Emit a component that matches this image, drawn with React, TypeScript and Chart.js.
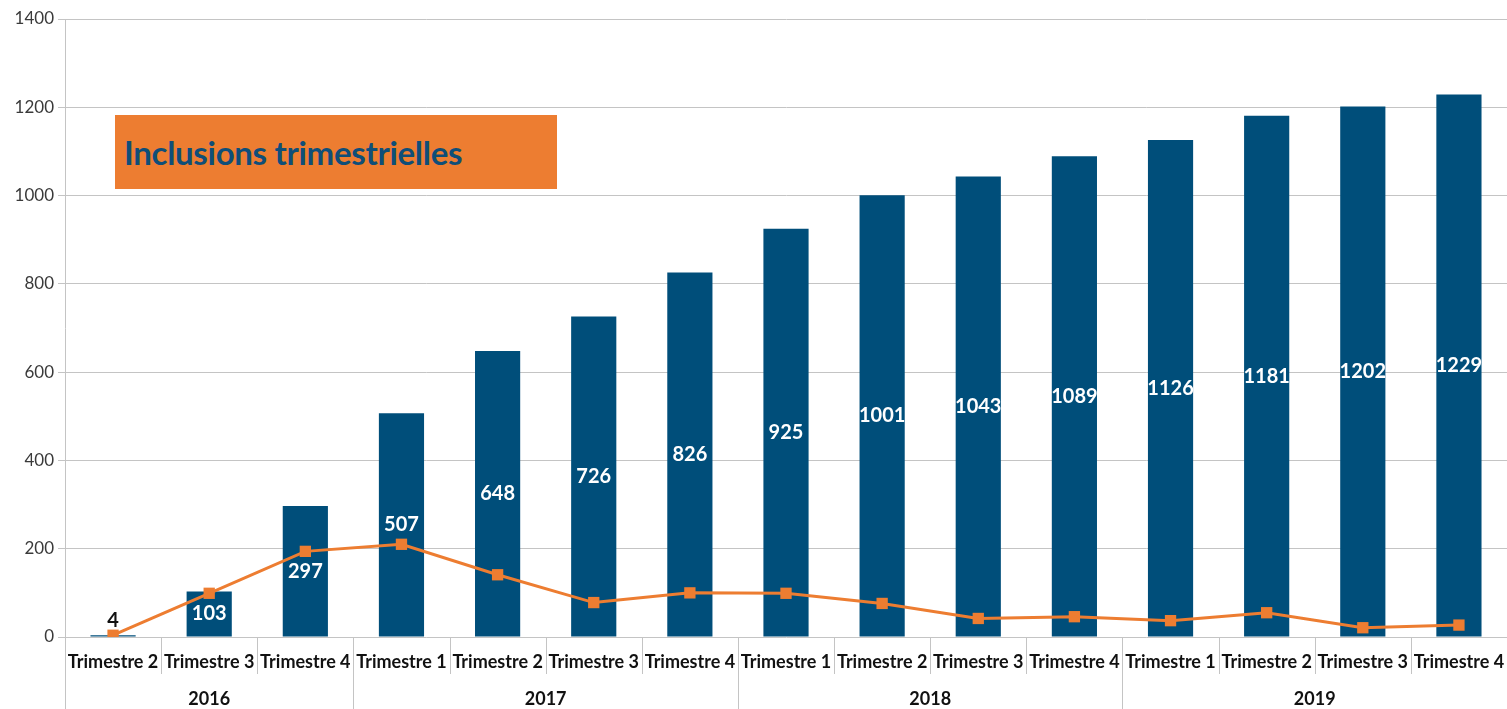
import React, { useEffect, useRef } from 'react';
import { Chart, registerables } from 'chart.js';

Chart.register(...registerables);

const quarters = [
  'Trimestre 2', 'Trimestre 3', 'Trimestre 4',
  'Trimestre 1', 'Trimestre 2', 'Trimestre 3', 'Trimestre 4',
  'Trimestre 1', 'Trimestre 2', 'Trimestre 3', 'Trimestre 4',
  'Trimestre 1', 'Trimestre 2', 'Trimestre 3', 'Trimestre 4',
];
const years = ['2016', '2017', '2018', '2019'];
const yearSpans = [3, 4, 4, 4];
const cumulative = [4, 103, 297, 507, 648, 726, 826, 925, 1001, 1043, 1089, 1126, 1181, 1202, 1229];
const quarterly = [4, 99, 194, 210, 141, 78, 100, 99, 76, 42, 46, 37, 55, 21, 27];
const title = 'Inclusions trimestrielles';

const BLUE = '#004e7a';
const ORANGE = '#ed7d31';
const GRID = '#c4c4c4';

const barLabelsPlugin = {
  id: 'barLabels',
  afterDatasetsDraw(chart: any) {
    const meta = chart.getDatasetMeta(0);
    const ctx = chart.ctx;
    ctx.save();
    ctx.font = 'bold 20px Lato';
    ctx.textAlign = 'center';
    ctx.textBaseline = 'middle';
    meta.data.forEach((bar: any, i: number) => {
      const v = cumulative[i];
      const h = bar.base - bar.y;
      if (h < 25) {
        ctx.fillStyle = '#111';
        ctx.fillText(String(v), bar.x, bar.y - 15);
      } else {
        ctx.fillStyle = '#ffffff';
        ctx.fillText(String(v), bar.x, (bar.y + bar.base) / 2);
      }
    });
    ctx.restore();
  },
};

const xAxisPlugin = {
  id: 'multiXAxis',
  afterDraw(chart: any) {
    const ctx = chart.ctx;
    const x = chart.scales.x;
    const area = chart.chartArea;
    const bottom = chart.height;
    const n = quarters.length;
    const half = (x.getPixelForValue(1) - x.getPixelForValue(0)) / 2;
    ctx.save();
    ctx.strokeStyle = GRID;
    ctx.lineWidth = 1;
    const boundaries = new Set<number>();
    let acc = 0;
    boundaries.add(0);
    yearSpans.forEach((s) => { acc += s; boundaries.add(acc); });
    for (let i = 0; i <= n; i++) {
      const px = Math.round(x.getPixelForValue(i) - half) + 0.5;
      const isYear = boundaries.has(i);
      ctx.beginPath();
      ctx.moveTo(px, area.bottom);
      ctx.lineTo(px, isYear ? bottom : area.bottom + 37);
      ctx.stroke();
    }
    ctx.fillStyle = '#111';
    ctx.font = 'bold 18px Lato';
    ctx.textAlign = 'center';
    ctx.textBaseline = 'middle';
    quarters.forEach((q, i) => {
      ctx.fillText(q, x.getPixelForValue(i), area.bottom + 25);
    });
    let start = 0;
    years.forEach((y, k) => {
      const end = start + yearSpans[k] - 1;
      const cx = (x.getPixelForValue(start) + x.getPixelForValue(end)) / 2;
      ctx.fillText(y, cx, area.bottom + 62);
      start += yearSpans[k];
    });
    ctx.restore();
  },
};

export default function App() {
  const ref = useRef<HTMLCanvasElement>(null);
  useEffect(() => {
    if (!ref.current) return;
    const chart = new Chart(ref.current, {
      type: 'bar',
      data: {
        labels: quarters,
        datasets: [
          {
            type: 'bar',
            data: cumulative,
            backgroundColor: BLUE,
            categoryPercentage: 1,
            barPercentage: 0.47,
            order: 2,
          } as any,
          {
            type: 'line',
            data: quarterly,
            borderColor: ORANGE,
            backgroundColor: ORANGE,
            borderWidth: 3,
            pointStyle: 'rect',
            pointRadius: 8,
            pointBorderWidth: 0,
            tension: 0,
            order: 1,
          } as any,
        ],
      },
      options: {
        animation: false,
        responsive: true,
        maintainAspectRatio: false,
        layout: { autoPadding: false, padding: { top: 19, right: 0, bottom: 72, left: 0 } },
        plugins: { legend: { display: false }, tooltip: { enabled: false } },
        scales: {
          x: { display: false, offset: true },
          y: {
            min: 0,
            max: 1400,
            ticks: {
              stepSize: 200,
              color: '#3a3a3a',
              font: { family: 'Lato', size: 17 },
              padding: 4,
              callback: (v: any) => String(v),
            },
            grid: { color: GRID, tickLength: 7, drawTicks: true },
            border: { display: true, color: GRID },
            afterFit: (s: any) => { s.width = 65; },
          },
        },
      },
      plugins: [barLabelsPlugin, xAxisPlugin],
    });
    return () => chart.destroy();
  }, []);
  return (
    <div style={{ position: 'absolute', left: 0, top: 0, width: 1507, height: 709, background: '#fff' }}>
      <canvas ref={ref} />
      <div
        style={{
          position: 'absolute',
          left: 115,
          top: 115,
          width: 442,
          height: 74,
          background: ORANGE,
          display: 'flex',
          alignItems: 'center',
          paddingLeft: 9,
          boxSizing: 'border-box',
          fontFamily: 'Lato',
          fontWeight: 700,
          fontSize: 33,
          color: '#0f4e78',
          letterSpacing: -0.3,
        }}
      >
        {title}
      </div>
    </div>
  );
}
